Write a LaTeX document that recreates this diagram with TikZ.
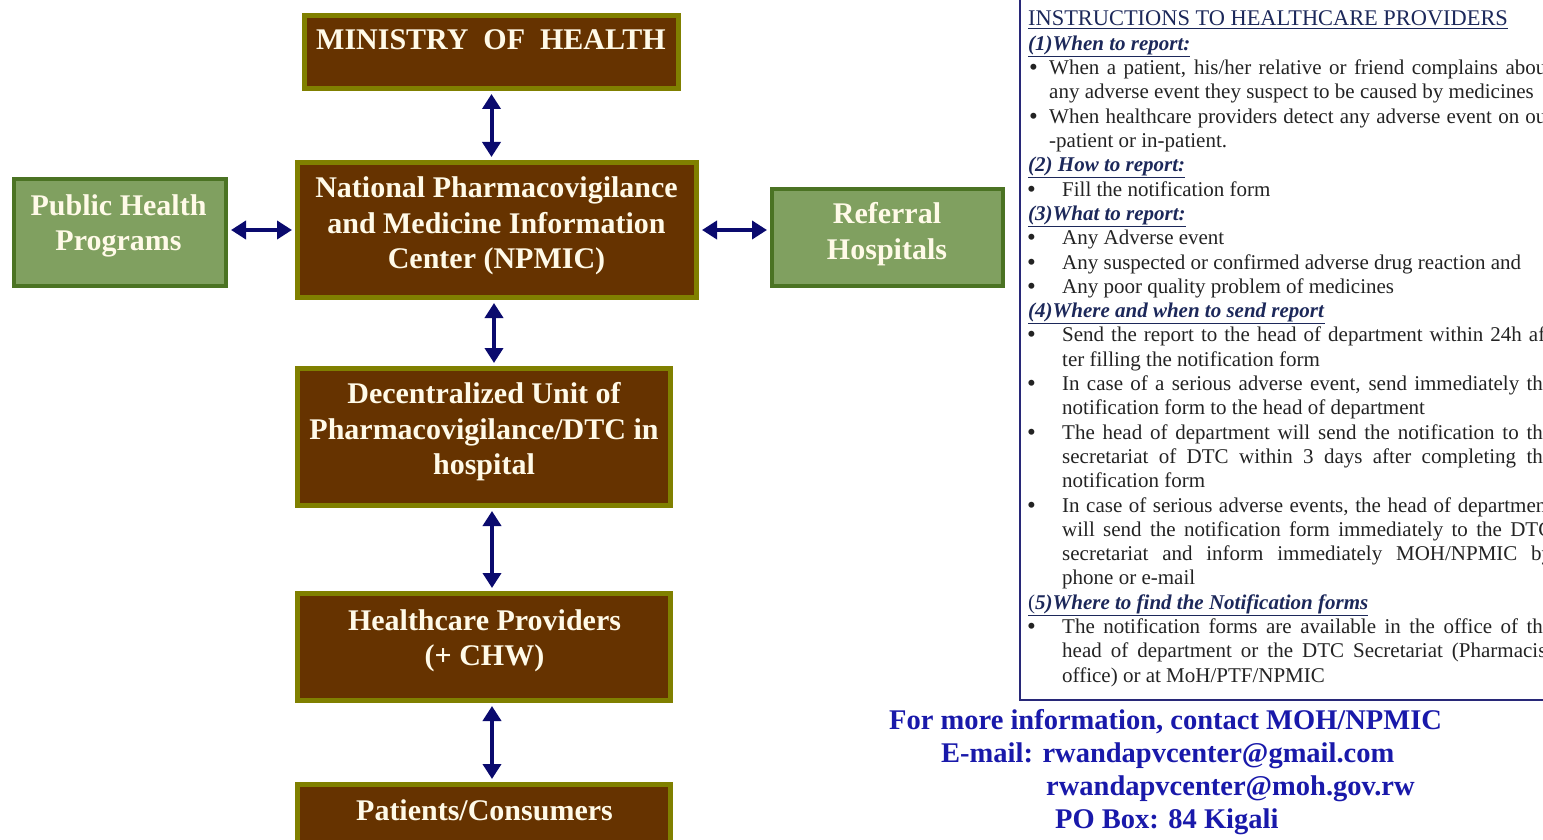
\documentclass[tikz,border=0pt]{standalone}
\usepackage{fontspec}
\setmainfont{Liberation Serif}
\usetikzlibrary{arrows.meta}
\definecolor{boxbrown}{RGB}{102,51,0}
\definecolor{boxolive}{RGB}{128,128,0}
\definecolor{boxgreen}{RGB}{128,160,96}
\definecolor{boxgreenline}{RGB}{75,115,35}
\definecolor{boxcream}{RGB}{255,250,232}
\definecolor{arrowblue}{RGB}{10,10,110}
\definecolor{headnavy}{RGB}{28,40,90}
\definecolor{bodygray}{RGB}{35,35,35}
\definecolor{boxnavy}{RGB}{40,40,120}
\definecolor{contactblue}{RGB}{25,25,170}
\newcommand{\jfull}[2]{\makebox[#1pt][s]{#2}}

\begin{document}
\begin{tikzpicture}[x=1pt,y=-1pt,
    brownbox/.style={draw=boxolive,fill=boxbrown,line width=5pt,inner sep=0pt},
    greenbox/.style={draw=boxgreenline,fill=boxgreen,line width=4pt,inner sep=0pt},
    boxtext/.style={text=boxcream,align=center,inner sep=0pt,font=\fontsize{30}{35.5}\selectfont\bfseries},
    dblarrow/.style={draw=arrowblue,line width=4pt,>={Triangle[width=18pt,length=15pt]},<->,shorten <=3pt,shorten >=3pt},
    instr/.style={anchor=base west,inner sep=0pt,text=bodygray,font=\fontsize{21}{24.3}\selectfont},
    instrhead/.style={instr,text=headnavy},
    dot/.style={instr,font=\fontsize{25}{24.3}\selectfont},
    contact/.style={anchor=base west,inner sep=0pt,text=contactblue,font=\fontsize{28.5}{33}\selectfont\bfseries}]
      \useasboundingbox (0,0) rectangle (1543,840);
      \clip (0,0) rectangle (1543,840);
      \node[brownbox,minimum width=374pt,minimum height=73pt] (moh) at (491.5,52) {};
      \node[brownbox,minimum width=399pt,minimum height=135pt] (npmic) at (497,230) {};
      \node[brownbox,minimum width=373pt,minimum height=137pt] (duc) at (484,437) {};
      \node[brownbox,minimum width=373pt,minimum height=107pt] (hcp) at (484,647) {};
      \node[brownbox,minimum width=373pt,minimum height=73pt] (pat) at (484,821) {};
      \node[greenbox,minimum width=212pt,minimum height=107pt] (php) at (120,232.5) {};
      \node[greenbox,minimum width=231pt,minimum height=97pt] (ref) at (887.5,237.5) {};
      \node[boxtext] (mohtxt) at (491,40) {MINISTRY\ \ OF\ \ HEALTH};
      \node[boxtext] (npmictxt) at (496.5,226) {National Pharmacovigilance\\and Medicine Information\\Center (NPMIC)};
      \node[boxtext] (ductxt) at (484,432) {Decentralized Unit of\\Pharmacovigilance/DTC in\\hospital};
      \node[boxtext] (hcptxt) at (484.5,641) {Healthcare Providers\\(+ CHW)};
      \node[boxtext] (pattxt) at (484.5,810) {Patients/Consumers};
      \node[boxtext] (phptxt) at (118.5,226) {Public Health\\Programs};
      \node[boxtext] (reftxt) at (887,234) {Referral\\Hospitals};
      \draw[dblarrow] (moh.south) -- (moh.south |- npmic.north);
      \draw[dblarrow] ([xshift=-3pt]npmic.south) -- ([xshift=-3pt]npmic.south |- duc.north);
      \draw[dblarrow] ([xshift=8pt]duc.south) -- ([xshift=8pt]duc.south |- hcp.north);
      \draw[dblarrow] ([xshift=8pt]hcp.south) -- ([xshift=8pt]hcp.south |- pat.north);
      \draw[dblarrow] (php.east |- npmic.west) -- (npmic.west);
      \draw[dblarrow] (npmic.east) -- (ref.west |- npmic.east);
      \draw[draw=boxnavy,line width=2pt] (1020,-10) rectangle (1560,700);
      \node[instrhead,font=\fontsize{22.4}{26}\selectfont] (l0) at (1028,26) {\underline{INSTRUCTIONS TO HEALTHCARE PROVIDERS}};
      \node[instrhead] (l1) at (1028,50.3) {\underline{\textbf{\textit{(1)When to report:}}}};
      \node[dot] (b2) at (1029,75.6) {\textbullet};
      \node[instr] (l2) at (1049,74.6) {\jfull{503}{When a patient, his/her relative or friend complains about}};
      \node[instr] (l3) at (1049,98.9) {any adverse event they suspect to be caused by medicines};
      \node[dot] (b4) at (1029,124.2) {\textbullet};
      \node[instr] (l4) at (1049,123.2) {\jfull{503}{When healthcare providers detect any adverse event on out}};
      \node[instr] (l5) at (1049,147.5) {-patient or in-patient.};
      \node[instrhead] (l6) at (1028,171.8) {\underline{\textbf{\textit{(2) How to report:}}}};
      \node[dot] (b7) at (1027,197.1) {\textbullet};
      \node[instr] (l7) at (1062,196.1) {Fill the notification form};
      \node[instrhead] (l8) at (1028,220.4) {\underline{\textbf{\textit{(3)What to report:}}}};
      \node[dot] (b9) at (1027,245.7) {\textbullet};
      \node[instr] (l9) at (1062,244.7) {Any Adverse event};
      \node[dot] (b10) at (1027,270) {\textbullet};
      \node[instr] (l10) at (1062,269) {Any suspected or confirmed adverse drug reaction and};
      \node[dot] (b11) at (1027,294.3) {\textbullet};
      \node[instr] (l11) at (1062,293.3) {Any poor quality problem of medicines};
      \node[instrhead] (l12) at (1028,317.6) {\underline{\textbf{\textit{(4)Where and when to send report}}}};
      \node[dot] (b13) at (1027,342.9) {\textbullet};
      \node[instr] (l13) at (1062,341.9) {\jfull{483}{Send the report to the head of department within 24h af}};
      \node[instr] (l14) at (1062,366.2) {ter filling the notification form};
      \node[dot] (b15) at (1027,391.5) {\textbullet};
      \node[instr] (l15) at (1062,390.5) {\jfull{490}{In case of a serious adverse event, send immediately the}};
      \node[instr] (l16) at (1062,414.8) {notification form to the head of department};
      \node[dot] (b17) at (1027,440.1) {\textbullet};
      \node[instr] (l17) at (1062,439.1) {\jfull{490}{The head of department will send the notification to the}};
      \node[instr] (l18) at (1062,463.4) {\jfull{490}{secretariat of DTC within 3 days after completing the}};
      \node[instr] (l19) at (1062,487.7) {notification form};
      \node[dot] (b20) at (1027,513) {\textbullet};
      \node[instr] (l20) at (1062,512) {\jfull{490}{In case of serious adverse events, the head of department}};
      \node[instr] (l21) at (1062,536.3) {\jfull{490}{will send the notification form immediately\ to the DTC}};
      \node[instr] (l22) at (1062,560.6) {\jfull{490}{secretariat and inform immediately MOH/NPMIC by}};
      \node[instr] (l23) at (1062,584.9) {phone or e-mail};
      \node[instrhead] (l24) at (1028,609.2) {\underline{(\textbf{\textit{5)Where to find the Notification forms}}}};
      \node[dot] (b25) at (1027,634.5) {\textbullet};
      \node[instr] (l25) at (1062,633.5) {\jfull{490}{The notification forms are available in the office of the}};
      \node[instr] (l26) at (1062,657.8) {\jfull{490}{head of department or the DTC\ Secretariat (Pharmacist}};
      \node[instr] (l27) at (1062,682.1) {office) or at MoH/PTF/NPMIC};
      \node[contact] (c1) at (889,729) {For more information, contact MOH/NPMIC};
      \node[contact] (c2) at (941,762) {E-mail: rwandapvcenter@gmail.com};
      \node[contact] (c3) at (1046,795) {rwandapvcenter@moh.gov.rw};
      \node[contact] (c4) at (1055,828) {PO Box: 84 Kigali};
\end{tikzpicture}
\end{document}
